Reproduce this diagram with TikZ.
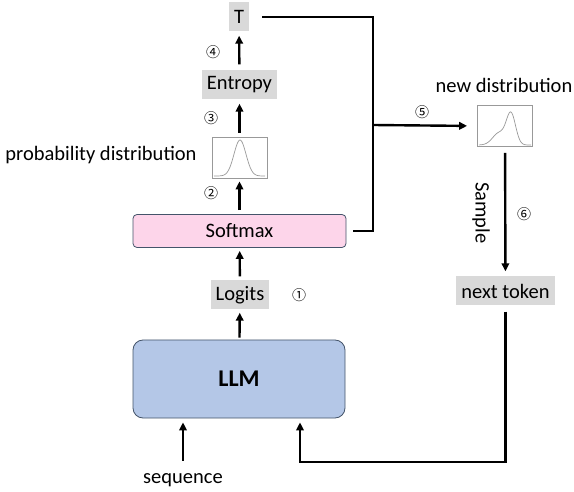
\documentclass[tikz,border=0pt]{standalone}
\usepackage{fontspec}
\setmainfont{Carlito}
\newfontfamily\cerchio{Noto Sans CJK JP}
\usetikzlibrary{arrows.meta,positioning}
\definecolor{grigio}{HTML}{D9D9D9}
\definecolor{rosa}{HTML}{FDD5EA}
\definecolor{azzurro}{HTML}{B4C7E7}
\definecolor{ardesia}{HTML}{44546A}
\begin{document}
\begin{tikzpicture}[x=1pt, y=-1pt, font=\fontsize{20.5}{24}\selectfont]
    % Stile per i nodi
    \tikzstyle{blocco}=[rectangle, fill=grigio, inner xsep=5pt, inner ysep=0pt, minimum height=29pt]
    \tikzstyle{softmax}=[rectangle, draw=ardesia, fill=rosa, rounded corners=4pt, minimum width=213pt, minimum height=33pt, line width=0.8pt]
    \tikzstyle{modello}=[rectangle, draw=ardesia, fill=azzurro, rounded corners=10pt, minimum width=212pt, minimum height=78pt, line width=0.8pt, font=\fontsize{24}{28}\selectfont\bfseries]
    \tikzstyle{grafico}=[rectangle, draw=gray!80, fill=white, minimum width=55pt, minimum height=41pt, line width=0.8pt]
    \tikzstyle{passo}=[font=\cerchio\fontsize{14}{16}\selectfont, inner sep=0pt]
    \tikzstyle{freccia}=[-{Triangle[length=8pt, width=7.5pt]}, line width=2.4pt]
    \tikzstyle{linea}=[line width=2.4pt]
    \tikzstyle{curva}=[gray!80, line width=0.7pt, smooth]

    \useasboundingbox (0,0) rectangle (574,492);

    % Colonna centrale
    \node[modello] (llm) at (239,379) {LLM};
    \node[blocco] (logits) at (240,295) {Logits};
    \node[softmax] (soft) at (239.5,231) {Softmax};
    \node[grafico] (prob) at (239.5,157.5) {};
    \node[blocco] (entropy) at (239.5,85) {Entropy};
    \node[blocco] (T) at (239,17) {T};

    % Parte destra
    \node[grafico] (newdist) at (505,126) {};
    \node[blocco] (next) at (505.5,291) {next token};
    \coordinate (bus) at (373,125);
    \coordinate (ritorno) at (300,462);

    % Etichette
    \node (seq) at (183,480) {sequence};
    \node (problabel) at (101,155) {probability distribution};
    \node (newlabel) at (504,85) {new distribution};
    \node[rotate=-90] (sample) at (481,213) {Sample};

    % Numeri dei passi
    \node[passo] (n1) at (299,295) {①};
    \node[passo] (n2) at (211,193) {②};
    \node[passo] (n3) at (211,118) {③};
    \node[passo] (n4) at (213,52) {④};
    \node[passo] (n5) at (422,112) {⑤};
    \node[passo] (n6) at (524,214) {⑥};

    % Curve delle distribuzioni
    \draw[curva] plot[domain=214:265, samples=60] (\x, {176-36*exp(-((\x-240)/8.5)^2)});
    \draw[curva] plot[domain=479:531, samples=60] (\x, {145-31*exp(-((\x-511)/6.5)^2)-12*exp(-((\x-499)/9)^2)});

    % Frecce verticali
    \draw[freccia, shorten <=2pt, shorten >=3pt] (llm) -- (logits);
    \draw[freccia, shorten <=4pt, shorten >=3pt] (logits) -- (soft);
    \draw[freccia, shorten <=4pt, shorten >=3pt] (soft) -- (prob);
    \draw[freccia, shorten <=4pt, shorten >=4pt] (prob) -- (entropy);
    \draw[freccia, shorten <=6pt, shorten >=4pt] (entropy) -- (T);

    % Temperatura verso la nuova distribuzione
    \draw[linea, shorten <=13pt, shorten >=7pt] (T.east) -| (bus) |- (soft.east);
    \draw[freccia, shorten >=10pt] (bus) -- (newdist.west);

    % Campionamento e ritorno
    \draw[freccia, shorten <=6pt, shorten >=5pt] (newdist) -- (next);
    \draw[freccia, shorten <=6pt, shorten >=4pt] (next.south) |- (ritorno) -- (ritorno |- llm.south);
    \draw[freccia, shorten <=9pt, shorten >=4pt] (seq.north) -- (seq.north |- llm.south);
\end{tikzpicture}
\end{document}
